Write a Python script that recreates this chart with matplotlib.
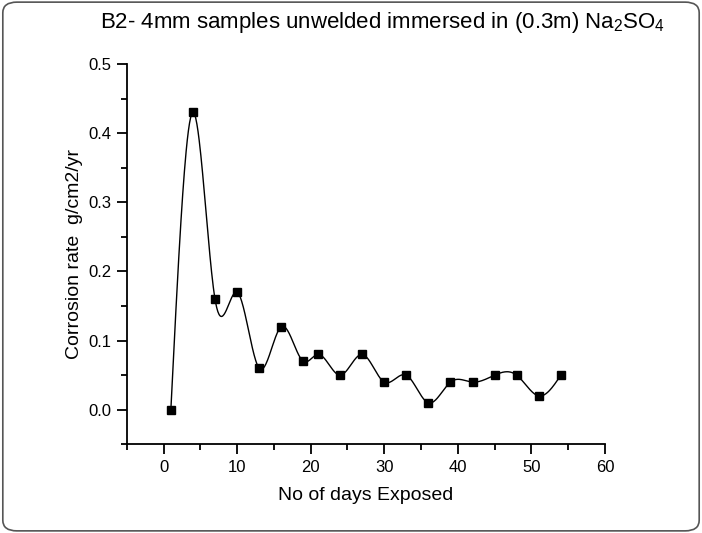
import numpy as np
import matplotlib
matplotlib.use("Agg")
from matplotlib import pyplot as plt
from matplotlib.patches import FancyBboxPatch

plt.rcParams['font.family'] = ['Liberation Sans', 'DejaVu Sans']
plt.rcParams['mathtext.fontset'] = 'custom'
plt.rcParams['mathtext.rm'] = 'Liberation Sans'
plt.rcParams['mathtext.it'] = 'Liberation Sans:italic'
plt.rcParams['mathtext.bf'] = 'Liberation Sans:bold'

days = [1, 4, 7, 10, 13, 16, 19, 21, 24, 27, 30, 33, 36, 39, 42, 45, 48, 51, 54]
rate = [0.0, 0.43, 0.16, 0.17, 0.06, 0.12, 0.07, 0.08, 0.05, 0.08, 0.04, 0.05,
        0.01, 0.04, 0.04, 0.05, 0.05, 0.02, 0.05]


def natural_spline(x, y, n=40):
    """natural cubic spline through the points, like Origin's spline connect"""
    x = np.asarray(x, float)
    y = np.asarray(y, float)
    k = len(x)
    h = np.diff(x)
    A = np.zeros((k, k))
    b = np.zeros(k)
    A[0, 0] = A[-1, -1] = 1
    for i in range(1, k - 1):
        A[i, i - 1] = h[i - 1]
        A[i, i] = 2 * (h[i - 1] + h[i])
        A[i, i + 1] = h[i]
        b[i] = 6 * ((y[i + 1] - y[i]) / h[i] - (y[i] - y[i - 1]) / h[i - 1])
    m = np.linalg.solve(A, b)
    xs, ys = [], []
    for i in range(k - 1):
        t = np.linspace(x[i], x[i + 1], n)
        a = x[i + 1] - t
        c = t - x[i]
        s = (m[i] * a ** 3 + m[i + 1] * c ** 3) / (6 * h[i]) \
            + (y[i] / h[i] - m[i] * h[i] / 6) * a \
            + (y[i + 1] / h[i] - m[i + 1] * h[i] / 6) * c
        xs.extend(t)
        ys.extend(s)
    return np.array(xs), np.array(ys)


fig = plt.figure(figsize=(7.02, 5.33), dpi=100)
ax = fig.add_axes([0.1805, 0.1664, 0.6813, 0.7136])

sx, sy = natural_spline(days, rate)
ax.plot(sx, sy, color='black', lw=1.0)
ax.plot(days, rate, 's', color='black', markersize=6.3)

ax.set_xlim(-5, 60)
ax.set_ylim(-0.05, 0.5)
ax.set_xticks(range(0, 61, 10))
ax.set_xticks(range(-5, 61, 5), minor=True)
ax.set_yticks(np.arange(0, 0.51, 0.1))
ax.set_yticks(np.arange(-0.05, 0.51, 0.05), minor=True)
ax.set_yticklabels(['0.0', '0.1', '0.2', '0.3', '0.4', '0.5'])
for s in ('top', 'right'):
    ax.spines[s].set_visible(False)
for s in ('left', 'bottom'):
    ax.spines[s].set_linewidth(1.3)
ax.tick_params(which='major', direction='out', length=7, width=1.3, labelsize=12, pad=4)
ax.tick_params(which='minor', direction='out', length=4, width=1.3)

ax.set_xlabel('No of days Exposed', fontsize=14, labelpad=9)
ax.set_ylabel('Corrosion rate  g/cm2/yr', fontsize=14, labelpad=4)
fig.text(0.545, 0.958, r'B2- 4mm samples unwelded immersed in (0.3m) Na$_2$SO$_4$',
         ha='center', va='center', fontsize=16)

# rounded frame round the whole picture
frame = FancyBboxPatch((0.004, 0.004), 0.992, 0.992,
                       boxstyle='round,pad=0,rounding_size=0.02',
                       transform=fig.transFigure, fill=False,
                       edgecolor='#555555', lw=1.2)
fig.patches.append(frame)

fig.savefig('out.png', dpi=100)
